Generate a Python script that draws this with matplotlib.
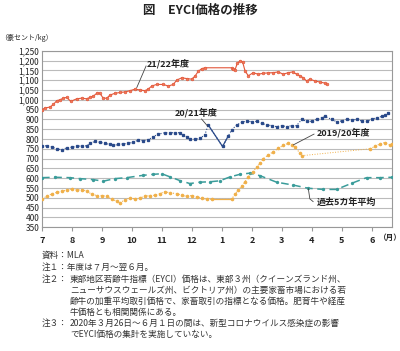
import matplotlib
matplotlib.use("Agg")
import matplotlib.pyplot as plt
from matplotlib.ticker import FuncFormatter
import numpy as np

plt.rcParams['font.family'] = ['Noto Sans CJK JP', 'DejaVu Sans']

# x = months elapsed since 1 July (fiscal year Jul–Jun)
x_2122 = [0.00, 0.10, 0.27, 0.38, 0.49, 0.60, 0.71, 0.82, 0.96, 1.16, 1.32, 1.49, 1.60, 1.71,
          1.84, 1.93, 2.04, 2.16, 2.27, 2.43, 2.60, 2.77, 2.93, 3.10, 3.27, 3.43, 3.54, 3.66,
          3.82, 4.04, 4.21, 4.38, 4.49, 4.66, 4.82, 4.99, 5.10, 5.21, 5.32, 5.43, 6.32, 6.38,
          6.43, 6.51, 6.60, 6.69, 6.77, 6.88, 7.04, 7.21, 7.38, 7.54, 7.71, 7.88, 8.04, 8.21,
          8.36, 8.49, 8.60, 8.71, 8.82, 8.93, 9.10, 9.27, 9.43, 9.49]
v_2122 = [950, 958, 963, 976, 995, 1000, 1008, 1012, 992, 1005, 1008, 1005, 1012, 1018,
          1035, 1033, 1008, 1008, 1024, 1033, 1037, 1040, 1046, 1054, 1050, 1046, 1054, 1070,
          1078, 1078, 1070, 1078, 1100, 1112, 1108, 1105, 1120, 1145, 1158, 1163, 1163, 1155,
          1150, 1185, 1198, 1192, 1147, 1122, 1138, 1130, 1135, 1137, 1138, 1142, 1130, 1138,
          1142, 1130, 1122, 1112, 1096, 1105, 1096, 1090, 1085, 1078]

x_2021 = [0.00, 0.16, 0.32, 0.49, 0.66, 0.82, 0.99, 1.16, 1.32, 1.49, 1.60, 1.77, 1.93, 2.10,
          2.27, 2.38, 2.54, 2.71, 2.88, 3.04, 3.21, 3.38, 3.54, 3.71, 3.88, 4.10, 4.27, 4.43,
          4.60, 4.71, 4.82, 4.93, 5.10, 5.27, 5.43, 5.54, 6.02, 6.21, 6.32, 6.49, 6.66, 6.82,
          6.99, 7.16, 7.32, 7.49, 7.66, 7.82, 7.99, 8.16, 8.32, 8.49, 8.66, 8.82, 8.99, 9.16,
          9.32, 9.43, 9.66, 9.82, 9.99, 10.16, 10.32, 10.49, 10.66, 10.82, 10.99, 11.16, 11.32,
          11.43, 11.54]
v_2021 = [765, 765, 760, 750, 745, 755, 758, 762, 765, 765, 778, 788, 783, 778,
          772, 767, 772, 775, 778, 783, 795, 792, 795, 812, 825, 832, 832, 832,
          832, 821, 812, 799, 799, 804, 821, 872, 762, 815, 845, 872, 885, 892,
          888, 890, 880, 872, 868, 863, 868, 863, 868, 868, 900, 890, 890, 900,
          908, 915, 900, 888, 892, 900, 896, 900, 892, 890, 900, 908, 915,
          920, 935]

x_1920 = [0.00, 0.16, 0.32, 0.49, 0.66, 0.82, 0.99, 1.16, 1.32, 1.49, 1.66, 1.82, 1.99, 2.16,
          2.32, 2.49, 2.60, 2.77, 2.93, 3.10, 3.27, 3.43, 3.60, 3.77, 3.93, 4.10, 4.27, 4.49,
          4.66, 4.82, 4.99, 5.16, 5.32, 5.49, 5.66, 6.32, 6.43, 6.54, 6.66, 6.77, 6.88, 7.04,
          7.16, 7.27, 7.38, 7.54, 7.71, 7.88, 8.04, 8.21, 8.32, 8.43, 8.60, 8.66]
v_1920 = [495, 508, 520, 528, 533, 540, 545, 540, 542, 535, 518, 512, 512, 508,
          492, 484, 475, 490, 500, 495, 500, 508, 512, 513, 522, 532, 525, 522,
          513, 508, 512, 505, 500, 492, 492, 492, 518, 540, 558, 583, 608, 633,
          658, 676, 700, 718, 735, 752, 768, 778, 770, 760, 728, 715]
# after the COVID gap (26 Mar – 1 Jun 2020)
x_1920b = [10.93, 11.10, 11.27, 11.43, 11.60, 11.67]
v_1920b = [750, 762, 775, 782, 770, 775]

x_avg = [0.00, 0.43, 0.93, 1.27, 1.71, 2.04, 2.43, 2.82, 3.38, 3.71, 3.99, 4.27, 4.60, 4.93,
         5.27, 5.60, 5.93, 6.27, 6.60, 6.93, 7.27, 7.82, 8.38, 8.88, 9.38, 9.82, 10.32, 10.82,
         11.27, 11.67]
v_avg = [603, 605, 603, 598, 593, 585, 598, 603, 615, 620, 623, 607, 588, 573,
         580, 582, 587, 607, 620, 626, 613, 580, 565, 549, 543, 543, 574, 603,
         603, 605]

month_labels = ['7', '8', '9', '10', '11', '12', '1', '2', '3', '4', '5', '6']
yticks = list(range(350, 1251, 50))

W, H = 400, 351
fig = plt.figure(figsize=(W / 100, H / 100), dpi=100)
L, R, T, B = 42, 392, 50.7, 227.3
ax = fig.add_axes([L / W, 1 - B / H, (R - L) / W, (B - T) / H])

c_red = '#E2573A'
c_navy = '#2A4A8A'
c_gold = '#F0B04A'
c_teal = '#3A9C9A'

# 5-year average
ax.plot(x_avg, v_avg, color=c_teal, lw=1.1, dashes=(5, 3), marker='o', ms=1.4,
        mfc=c_teal, mec=c_teal, zorder=3)

# 2019/20
gi = x_1920.index(5.66)
ax.plot(x_1920[gi:gi + 2], v_1920[gi:gi + 2], color=c_gold, lw=0.9, zorder=4)
ax.plot(x_1920, v_1920, color=c_gold, lw=0.8, ls=':', marker='o', ms=1.6,
        mfc=c_gold, mec=c_gold, zorder=4)
ax.plot([x_1920[-1], x_1920b[0]], [v_1920[-1], v_1920b[0]], color=c_gold, lw=0.7, ls=':', zorder=4)
ax.plot(x_1920b, v_1920b, color=c_gold, lw=0.8, ls=':', marker='o', ms=1.6,
        mfc=c_gold, mec=c_gold, zorder=4)

# 2020/21
bi = x_2021.index(5.54)
ax.plot(x_2021[bi:bi + 3], v_2021[bi:bi + 3], color=c_navy, lw=0.9, zorder=5)
ax.plot(x_2021, v_2021, color=c_navy, lw=0.8, ls=':', marker='s', ms=1.4,
        mfc=c_navy, mec=c_navy, zorder=5)

# 2021/22
ax.plot(x_2122, v_2122, color=c_red, lw=0.8, marker='o', ms=1.9,
        mfc='#F07A5A', mec=c_red, mew=0.5, zorder=6)

ax.set_xlim(0, 11.67)
ax.set_ylim(350, 1250)
ax.set_yticks(yticks)
ax.yaxis.set_major_formatter(FuncFormatter(lambda v, p: f'{int(v):,}'))
ax.set_xticks(range(12))
ax.set_xticklabels(month_labels)
ax.grid(axis='y', color='#BBBBBB', lw=0.8)
ax.set_axisbelow(True)
for s in ax.spines.values():
    s.set_color('#999999')
    s.set_linewidth(0.8)
ax.tick_params(axis='y', length=0, pad=2, labelsize=6, labelcolor='#222222')
ax.tick_params(axis='x', length=3, direction='out', color='#999999', pad=3,
               labelsize=6.5, labelcolor='#222222')
for t in ax.get_xticklabels():
    t.set_fontweight('bold')

# annotations
tk = dict(fontsize=6.5, color='#222222', fontweight='bold', va='center', ha='left')
ax.text(3.5, 1182, '21/22年度', **tk)
ax.plot([3.47, 3.16], [1172, 1062], color='#444444', lw=0.6, zorder=7)
ax.text(4.43, 932, '20/21年度', **tk)
ax.plot([5.32, 5.52], [902, 866], color='#444444', lw=0.6, zorder=7)
ax.text(9.17, 830, '2019/20年度', **tk)
ax.plot([9.07, 8.38], [825, 770], color='#444444', lw=0.6, zorder=7)
ax.text(9.17, 476, '過去5カ年平均', **tk)
ax.plot([8.88, 8.93, 9.04], [547, 495, 481], color='#444444', lw=0.6, zorder=7)

# figure texts
fig.text(0.5, 1 - 10.7 / H, '図　EYCI価格の推移', ha='center', va='center',
         fontsize=9, fontweight='bold', color='#222222')
fig.text(0.0, 1 - 37.5 / H, '（豪セント/kg）', ha='left', va='center', fontsize=5,
         color='#222222')
fig.text(390 / W, 1 - 237.5 / H, '（月）', ha='center', va='center', fontsize=5.5,
         fontweight='bold', color='#222222')

nf = dict(fontsize=6.2, color='#333333', va='center', ha='left')
x0, x1 = 41.7 / W, 70 / W
fig.text(x0, 1 - 255 / H, '資料：MLA', **nf)
fig.text(x0, 1 - 267 / H, '注１：年度は７月～翌６月。', **nf)
fig.text(x0, 1 - 279 / H, '注２：', **nf)
fig.text(x1, 1 - 279 / H, '東部地区若齢牛指標（EYCI）価格は、東部３州（クイーンズランド州、', **nf)
fig.text(x1, 1 - 290.5 / H, 'ニューサウスウェールズ州、ビクトリア州）の主要家畜市場における若', **nf)
fig.text(x1, 1 - 301.5 / H, '齢牛の加重平均取引価格で、家畜取引の指標となる価格。肥育牛や経産', **nf)
fig.text(x1, 1 - 312 / H, '牛価格とも相関関係にある。', **nf)
fig.text(x0, 1 - 323.5 / H, '注３：', **nf)
fig.text(x1, 1 - 323.5 / H, '2020年３月26日～６月１日の間は、新型コロナウイルス感染症の影響', **nf)
fig.text(x1, 1 - 334.5 / H, 'でEYCI価格の集計を実施していない。', **nf)

fig.savefig('out.png', dpi=100)
